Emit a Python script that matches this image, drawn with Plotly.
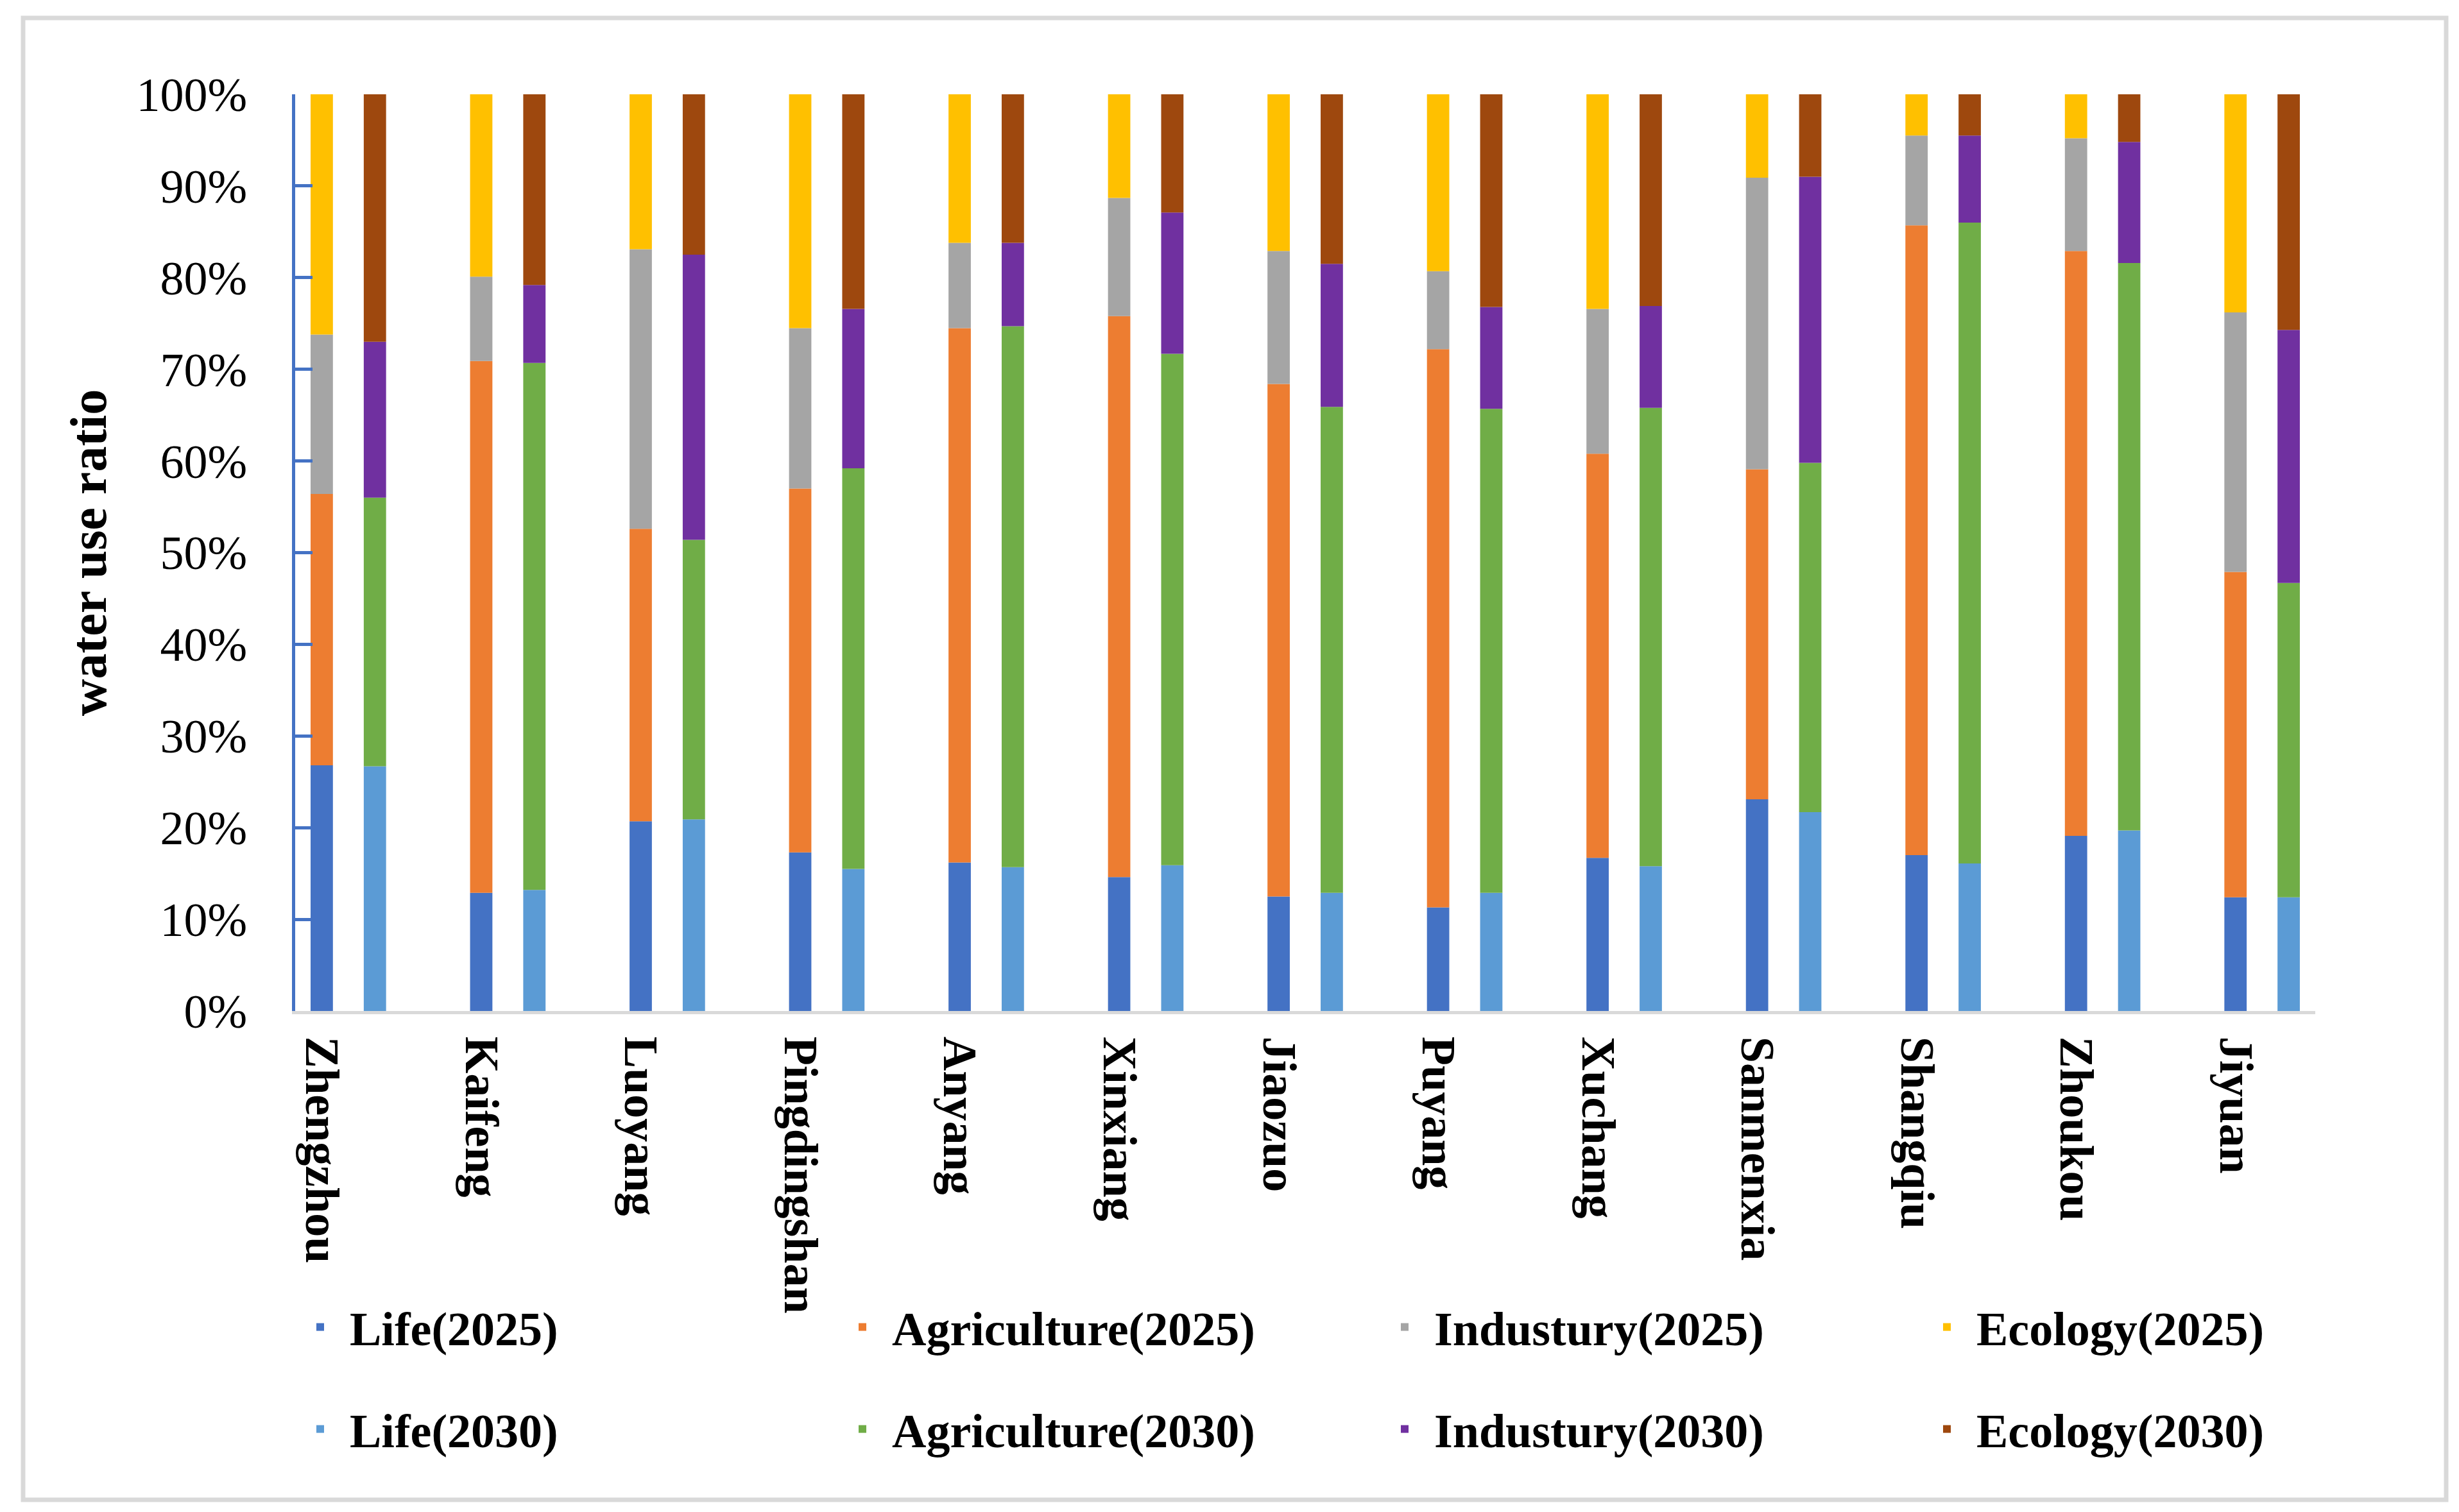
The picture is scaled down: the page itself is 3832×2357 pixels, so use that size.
import plotly.graph_objects as go

cities = ["Zhengzhou", "Kaifeng", "Luoyang", "Pingdingshan", "Anyang", "Xinxiang",
          "Jiaozuo", "Puyang", "Xuchang", "Sanmenxia", "Shangqiu", "Zhoukou", "Jiyuan"]

# segment shares (%)
life_2025 = [26.8, 12.9, 20.7, 17.3, 16.2, 14.6, 12.5, 11.3, 16.7, 23.1, 17.0, 19.1, 12.4]
agri_2025 = [29.6, 58.0, 31.9, 39.7, 58.3, 61.2, 55.9, 60.9, 44.1, 36.0, 68.7, 63.8, 35.5]
ind_2025 = [17.4, 9.2, 30.5, 17.5, 9.3, 12.9, 14.5, 8.5, 15.8, 31.8, 9.8, 12.3, 28.3]
eco_2025 = [26.2, 19.9, 16.9, 25.5, 16.2, 11.3, 17.1, 19.3, 23.4, 9.1, 4.5, 4.8, 23.8]

life_2030 = [26.7, 13.2, 20.9, 15.5, 15.7, 15.9, 12.9, 12.9, 15.8, 21.7, 16.1, 19.7, 12.4]
agri_2030 = [29.3, 57.5, 30.5, 43.7, 59.0, 55.8, 53.0, 52.8, 50.0, 38.1, 69.9, 61.9, 34.3]
ind_2030 = [17.0, 8.5, 31.1, 17.4, 9.1, 15.4, 15.6, 11.1, 11.1, 31.2, 9.5, 13.2, 27.6]
eco_2030 = [27.0, 20.8, 17.5, 23.4, 16.2, 12.9, 18.5, 23.2, 23.1, 9.0, 4.5, 5.2, 25.7]

y_ticks = [0, 10, 20, 30, 40, 50, 60, 70, 80, 90, 100]
y_tick_labels = ["0%", "10%", "20%", "30%", "40%", "50%", "60%", "70%", "80%", "90%", "100%"]

W, H = 3832, 2357
ML, MR, MT, MB = 452, 232, 139, 789
FONT = "Liberation Serif, Times New Roman, serif"

pw = W - ML - MR
ph = H - MT - MB
def px_x(p):
    return (p - ML) / pw
def px_y(p):
    return 1 - (p - MT) / ph

x2025 = [3 * i for i in range(len(cities))]
x2030 = [3 * i + 1 for i in range(len(cities))]

series = [
    ("Life(2025)", life_2025, x2025, "#4472C4", "legend"),
    ("Agriculture(2025)", agri_2025, x2025, "#ED7D31", "legend"),
    ("Industury(2025)", ind_2025, x2025, "#A5A5A5", "legend"),
    ("Ecology(2025)", eco_2025, x2025, "#FFC000", "legend"),
    ("Life(2030)", life_2030, x2030, "#5B9BD5", "legend2"),
    ("Agriculture(2030)", agri_2030, x2030, "#70AD47", "legend2"),
    ("Industury(2030)", ind_2030, x2030, "#7030A0", "legend2"),
    ("Ecology(2030)", eco_2030, x2030, "#9E480E", "legend2"),
]

fig = go.Figure()
for name, vals, xs, color, lg in series:
    fig.add_trace(go.Bar(
        x=xs, y=vals, name=name, width=0.42,
        marker=dict(color=color, line=dict(width=0)),
        legend=lg,
    ))

legend_common = dict(
    orientation="h", xref="paper", yref="paper",
    xanchor="left", yanchor="middle",
    entrywidth=748, entrywidthmode="pixels", itemwidth=82,
    font=dict(family=FONT, size=74, color="black", weight="bold"),
    bgcolor="rgba(0,0,0,0)", traceorder="normal",
)

fig.update_layout(
    width=W, height=H,
    margin=dict(l=ML, r=MR, t=MT, b=MB, autoexpand=False),
    barmode="relative",
    plot_bgcolor="white", paper_bgcolor="white",
    font=dict(family=FONT, color="black"),
    legend=dict(x=px_x(445), y=px_y(2061), **legend_common),
    legend2=dict(x=px_x(445), y=px_y(2220), **legend_common),
    xaxis=dict(
        range=[-0.5, 37.5], tickmode="array", tickvals=x2025, ticktext=cities,
        tickangle=90, showline=True, linecolor="#D9D9D9", linewidth=5,
        ticks="", showgrid=False, zeroline=False, ticklabelstandoff=20,
        tickfont=dict(family=FONT, size=74, color="black", weight="bold"),
    ),
    yaxis=dict(
        range=[0, 100], tickmode="array", tickvals=y_ticks, ticktext=y_tick_labels,
        showline=True, linecolor="#4472C4", linewidth=5,
        ticks="inside", ticklen=27, tickwidth=5, tickcolor="#4472C4",
        showgrid=False, zeroline=False, ticklabelstandoff=55,
        tickfont=dict(family=FONT, size=74, color="black"),
        title=dict(text="water use ratio", standoff=22,
                   font=dict(family=FONT, size=80, color="black", weight="bold")),
    ),
)

fig.add_shape(type="rect", xref="paper", yref="paper",
              x0=px_x(28), x1=px_x(3804), y0=px_y(2330), y1=px_y(20),
              line=dict(color="#D9D9D9", width=7), fillcolor="rgba(0,0,0,0)", layer="below")

fig.write_html("out.html")
